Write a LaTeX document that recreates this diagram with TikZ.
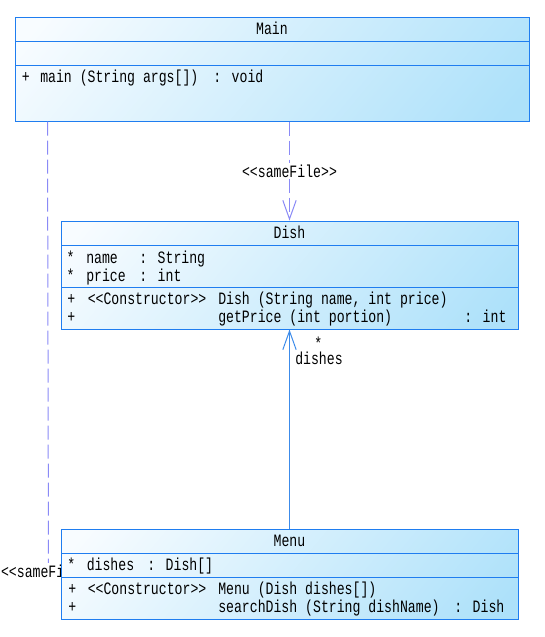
\documentclass[tikz,border=0pt]{standalone}
\usepackage{fontspec}
\newfontfamily\umlfont[FakeStretch=0.76]{Liberation Mono}
\usetikzlibrary{arrows.meta, fit, calc}
\definecolor{umlborder}{HTML}{1F7DF0}
\definecolor{umltop}{HTML}{F8FCFF}
\definecolor{umlbot}{HTML}{ADE1FA}
\definecolor{deplink}{HTML}{8A8AF6}
\definecolor{asslink}{HTML}{3C8BEA}
\pgfdeclareverticalshading{umlgrad}{100bp}{color(0bp)=(umlbot); color(18bp)=(umlbot); color(82bp)=(umltop); color(100bp)=(umltop)}

\begin{document}
\begin{tikzpicture}[x=0.75pt, y=-0.75pt, font={\umlfont\fontsize{13pt}{15pt}\selectfont},
  cls/.style={draw=umlborder, line width=0.75pt, inner sep=0pt, shading=umlgrad, shading angle=50},
  part/.style={draw=umlborder, line width=0.75pt, inner sep=0pt},
  memb/.style={inner sep=0pt, anchor=base west},
  title/.style={inner sep=0pt, anchor=base},
  dep/.style={draw=deplink, line width=0.75pt, dash pattern=on 10.5pt off 3.75pt},
  assoc/.style={draw=asslink, line width=0.75pt},
  barb/.style={-{Straight Barb[length=14pt, width=10pt]}},
  lbl/.style={fill=white, inner sep=1.5pt}]
\useasboundingbox (0,0) rectangle (544,637);

% ---------- Main ----------
\node[cls, fit={(15,17) (529,121)}] (main) {};
\node[part, fit={(15,17) (529,41)}] (mainT) {};
\node[part, fit={(15,41) (529,65)}] (mainA) {};
\node[part, fit={(15,65) (529,121)}] (mainM) {};
\node[title] (mainName) at (272,34) {Main};
\node[memb] (mainVis) at (21.5,82) {+};
\node[memb] (mainOp) at (40,82) {main (String args[])};
\node[memb] (mainRet) at (213,82) {: void};

% ---------- Dish ----------
\node[cls, fit={(61,221) (518,329)}] (dish) {};
\node[part, fit={(61,221) (518,245)}] (dishT) {};
\node[part, fit={(61,245) (518,287)}] (dishA) {};
\node[part, fit={(61,287) (518,329)}] (dishM) {};
\node[title] (dishName) at (289.5,238) {Dish};
\node[memb] (dishS1) at (66.3,263) {*};
\node[memb] (dishF1) at (86,263) {name};
\node[memb] (dishT1) at (139,263) {: String};
\node[memb] (dishS2) at (66.3,281) {*};
\node[memb] (dishF2) at (86,281) {price};
\node[memb] (dishT2) at (139,281) {: int};
\node[memb] (dishV1) at (67,304) {+};
\node[memb] (dishC1) at (87.5,304) {<<Constructor>>};
\node[memb] (dishO1) at (218,304) {Dish (String name, int price)};
\node[memb] (dishV2) at (67,322) {+};
\node[memb] (dishO2) at (218,322) {getPrice (int portion)};
\node[memb] (dishR2) at (464,322) {: int};

% ---------- connectors ----------
\draw[dep, barb] (mainM.south -| dishT.north) -- node[lbl] (lblDish) {<<sameFile>>} (dishT.north);

\coordinate (selfEnd) at (48.5,571);
\draw[dep] ($(mainM.south west)+(33,0)$) -- (selfEnd);
\node[lbl] (lblMenu) at (selfEnd) {<<sameFile>>};

\coordinate (menuTop) at (289.5,529);
\draw[assoc, barb] (menuTop) -- (dishM.south);
\node[memb] (multDish) at (314,349) {*};
\node[memb] (roleDish) at (295,364) {dishes};

% ---------- Menu ----------
\node[cls, fit={(61,529) (518,619)}] (menu) {};
\node[part, fit={(61,529) (518,553)}] (menuT) {};
\node[part, fit={(61,553) (518,577)}] (menuA) {};
\node[part, fit={(61,577) (518,619)}] (menuM) {};
\node[title] (menuName) at (289.5,546) {Menu};
\node[memb] (menuS1) at (67,570) {*};
\node[memb] (menuF1) at (86.5,570) {dishes};
\node[memb] (menuT1) at (147,570) {: Dish[]};
\node[memb] (menuV1) at (68,594) {+};
\node[memb] (menuC1) at (87.5,594) {<<Constructor>>};
\node[memb] (menuO1) at (218,594) {Menu (Dish dishes[])};
\node[memb] (menuV2) at (68,612) {+};
\node[memb] (menuO2) at (218,612) {searchDish (String dishName)};
\node[memb] (menuR2) at (454,612) {: Dish};

\end{tikzpicture}
\end{document}
